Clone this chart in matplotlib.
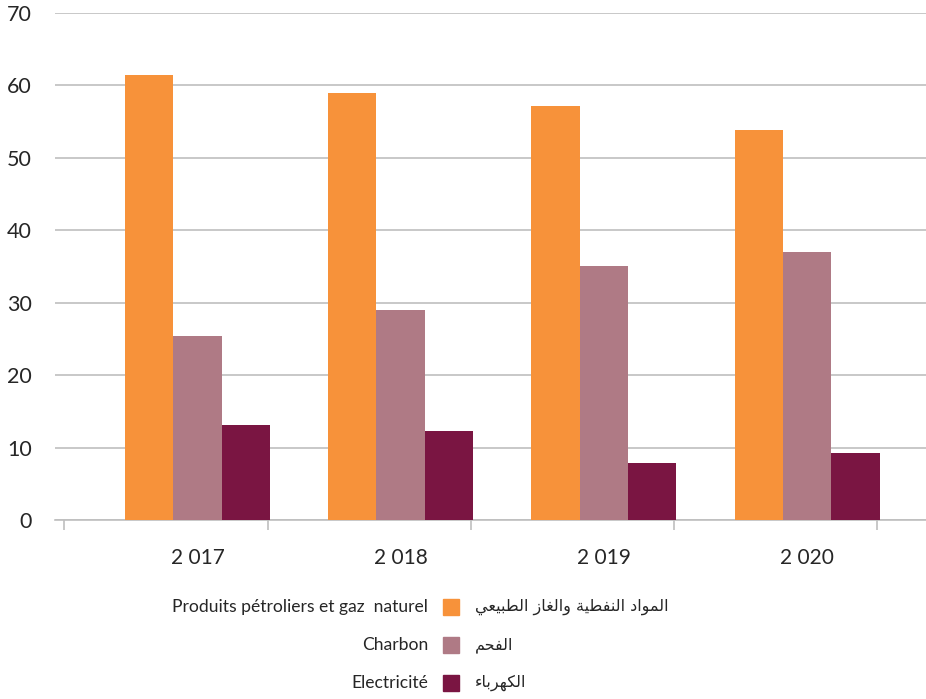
import matplotlib
matplotlib.use("Agg")
import matplotlib.pyplot as plt
import numpy as np

years = ["2 017", "2 018", "2 019", "2 020"]
petrole = [61.4, 59.0, 57.2, 53.8]
charbon = [25.4, 29.0, 35.1, 37.0]
electricite = [13.1, 12.3, 7.9, 9.25]

labels_fr = ["Produits pétroliers et gaz  naturel", "Charbon", "Electricité"]
labels_ar = ["المواد النفطية والغاز الطبيعي", "الفحم", "الكهرباء"]
colors = ["#F7923A", "#AF7A85", "#7A1542"]

# minimal arabic shaping (matplotlib has no bidi / joining support)
FORMS = {
    "ء": ("\uFE80",),
    "ا": ("\uFE8D", "\uFE8E"),
    "ب": ("\uFE8F", "\uFE90", "\uFE91", "\uFE92"),
    "ة": ("\uFE93", "\uFE94"),
    "ح": ("\uFEA1", "\uFEA2", "\uFEA3", "\uFEA4"),
    "د": ("\uFEA9", "\uFEAA"),
    "ر": ("\uFEAD", "\uFEAE"),
    "ز": ("\uFEAF", "\uFEB0"),
    "ط": ("\uFEC1", "\uFEC2", "\uFEC3", "\uFEC4"),
    "ع": ("\uFEC9", "\uFECA", "\uFECB", "\uFECC"),
    "غ": ("\uFECD", "\uFECE", "\uFECF", "\uFED0"),
    "ف": ("\uFED1", "\uFED2", "\uFED3", "\uFED4"),
    "ك": ("\uFED9", "\uFEDA", "\uFEDB", "\uFEDC"),
    "ل": ("\uFEDD", "\uFEDE", "\uFEDF", "\uFEE0"),
    "م": ("\uFEE1", "\uFEE2", "\uFEE3", "\uFEE4"),
    "ن": ("\uFEE5", "\uFEE6", "\uFEE7", "\uFEE8"),
    "ه": ("\uFEE9", "\uFEEA", "\uFEEB", "\uFEEC"),
    "و": ("\uFEED", "\uFEEE"),
    "ي": ("\uFEF1", "\uFEF2", "\uFEF3", "\uFEF4"),
}


def shape(s):
    # pick joined forms, then reverse into visual (left to right) order
    out = []
    for i, c in enumerate(s):
        if c not in FORMS:
            out.append(c)
            continue
        f = FORMS[c]
        prev = s[i - 1] if i > 0 else None
        nxt = s[i + 1] if i + 1 < len(s) else None
        jp = prev in FORMS and len(FORMS[prev]) == 4 and len(f) > 1
        jn = len(f) == 4 and nxt in FORMS and len(FORMS[nxt]) > 1
        if jp and jn:
            out.append(f[3])
        elif jp:
            out.append(f[1])
        elif jn:
            out.append(f[2])
        else:
            out.append(f[0])
    return "".join(out)[::-1]


plt.rcParams["font.family"] = ["Lato", "DejaVu Sans"]

fig = plt.figure(figsize=(9.26, 6.99), dpi=100)
ax = fig.add_axes([0.0594, 0.2561, 0.9406, 0.7253])

x = np.arange(len(years))
w = 0.238
for k, vals in enumerate([petrole, charbon, electricite]):
    ax.bar(x + (k - 1) * w, vals, width=w, color=colors[k], zorder=3)

ax.set_ylim(0, 70)
ax.set_xlim(-0.701, 3.585)
ax.set_yticks(range(0, 71, 10))
ax.yaxis.grid(True, color="#BFBFBF", linewidth=1.2, zorder=0)
ax.tick_params(axis="y", length=0, labelsize=15.5, labelcolor="#262626", pad=16.5)

ax.set_xticks(x)
ax.set_xticklabels(years)
ax.tick_params(axis="x", which="major", length=0, labelsize=15, labelcolor="#262626", pad=20)
# small separator ticks between categories
ax.set_xticks(np.arange(len(years) + 1) - 0.655, minor=True)
ax.tick_params(axis="x", which="minor", length=7, color="#BFBFBF", width=1.2)

for s in ["top", "right", "left"]:
    ax.spines[s].set_visible(False)
ax.spines["bottom"].set_color("#BFBFBF")
ax.spines["bottom"].set_linewidth(1.2)

# legend: french label | colour square | arabic label
ys = [607, 645, 683]
for i in range(3):
    yf = 1 - ys[i] / 699
    fig.text(428 / 926, yf, labels_fr[i], ha="right", va="center", fontsize=12.6, color="#262626")
    fig.patches.append(plt.Rectangle((443 / 926, yf - 8 / 699), 16 / 926, 16 / 699,
                                     transform=fig.transFigure, color=colors[i], figure=fig))
    fig.text(475 / 926, yf, shape(labels_ar[i]), ha="left", va="center", fontsize=11.5,
             color="#262626", family=["DejaVu Sans"])

fig.savefig("out.png", dpi=100)
